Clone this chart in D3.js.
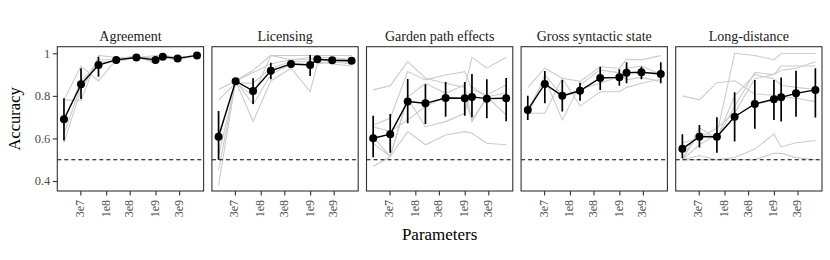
<!DOCTYPE html>
<html>
<head>
<meta charset="utf-8">
<script src="https://cdn.jsdelivr.net/npm/d3@7"></script>
<style>
  html, body { margin: 0; padding: 0; background: #fff; }
  svg { display: block; }
  text { font-family: "Liberation Serif", "DejaVu Serif", serif; }
</style>
</head>
<body>
<svg id="chart" width="830" height="260"></svg>
<script>
// ---------------- data ----------------
const categories = ["Agreement", "Licensing", "Garden path effects", "Gross syntactic state", "Long-distance"];
const params = [14e6, 31e6, 70e6, 160e6, 410e6, 1e9, 1.4e9, 2.8e9, 6.9e9];
const xTickValues = [3e7, 1e8, 3e8, 1e9, 3e9];
const xTickLabels = ["3e7", "1e8", "3e8", "1e9", "3e9"];
const yTickValues = [0.4, 0.6, 0.8, 1];
const yTickLabels = ["0.4", "0.6", "0.8", "1"];
const chanceLevel = 0.5;

const meanAccuracy = [
  [0.690, 0.854, 0.945, 0.969, 0.980, 0.969, 0.984, 0.976, 0.990],
  [0.608, 0.869, 0.823, 0.918, 0.950, 0.945, 0.972, 0.967, 0.965],
  [0.601, 0.620, 0.773, 0.765, 0.790, 0.789, 0.795, 0.787, 0.789],
  [0.734, 0.856, 0.800, 0.824, 0.884, 0.887, 0.909, 0.911, 0.903],
  [0.551, 0.608, 0.608, 0.702, 0.762, 0.784, 0.793, 0.812, 0.828]
];
const lowerBound = [
  [0.590, 0.785, 0.890, 0.960, 0.975, 0.950, 0.978, 0.970, 0.985],
  [0.500, 0.860, 0.762, 0.878, 0.935, 0.893, 0.962, 0.958, 0.955],
  [0.512, 0.533, 0.671, 0.668, 0.702, 0.706, 0.700, 0.695, 0.681],
  [0.687, 0.765, 0.726, 0.777, 0.828, 0.847, 0.859, 0.878, 0.859],
  [0.507, 0.557, 0.533, 0.585, 0.645, 0.687, 0.679, 0.702, 0.698]
];
const upperBound = [
  [0.789, 0.930, 0.984, 0.978, 0.985, 0.985, 0.990, 0.982, 0.995],
  [0.729, 0.878, 0.883, 0.956, 0.965, 0.992, 0.982, 0.976, 0.975],
  [0.707, 0.715, 0.879, 0.854, 0.865, 0.865, 0.903, 0.878, 0.884],
  [0.801, 0.917, 0.875, 0.862, 0.937, 0.925, 0.958, 0.937, 0.958],
  [0.620, 0.663, 0.700, 0.817, 0.875, 0.875, 0.886, 0.918, 0.930]
];
// individual task accuracies (grey lines)
const taskAccuracy = [
  [
    [0.78, 0.94, 0.87, 0.97, 0.98, 0.97, 0.99, 0.98, 0.99],
    [0.78, 0.78, 0.99, 0.98, 0.98, 0.99, 0.99, 0.98, 0.99],
    [0.62, 0.85, 0.97, 0.97, 0.99, 0.95, 0.98, 0.97, 0.99],
    [0.58, 0.83, 0.96, 0.96, 0.98, 0.96, 0.98, 0.98, 0.99],
    [0.68, 0.87, 0.95, 0.97, 0.98, 0.98, 0.98, 0.97, 0.99]
  ],
  [
    [0.38, 0.87, 0.68, 0.87, 0.93, 0.82, 0.95, 0.96, 0.96],
    [0.45, 0.87, 0.76, 0.90, 0.95, 0.95, 0.97, 0.97, 0.97],
    [0.52, 0.86, 0.80, 0.99, 0.99, 0.99, 0.99, 0.99, 0.99],
    [0.83, 0.87, 0.91, 0.95, 0.97, 0.97, 0.98, 0.98, 0.97],
    [0.78, 0.86, 0.86, 0.93, 0.96, 0.96, 0.96, 0.95, 0.94],
    [0.62, 0.87, 0.92, 0.99, 0.97, 0.98, 0.97, 0.96, 0.95]
  ],
  [
    [0.828, 0.848, 0.961, 0.883, 0.859, 0.840, 0.981, 0.930, 0.981],
    [0.663, 0.695, 0.914, 0.875, 0.898, 0.914, 0.828, 0.804, 0.851],
    [0.468, 0.515, 0.796, 0.859, 0.812, 0.852, 0.679, 0.796, 0.812],
    [0.577, 0.515, 0.632, 0.570, 0.616, 0.632, 0.624, 0.577, 0.570],
    [0.608, 0.515, 0.788, 0.655, 0.679, 0.718, 0.843, 0.796, 0.710],
    [0.655, 0.632, 0.687, 0.750, 0.796, 0.788, 0.687, 0.788, 0.788]
  ],
  [
    [0.840, 0.930, 0.883, 0.868, 0.937, 0.930, 0.972, 0.969, 0.989],
    [0.718, 0.718, 0.883, 0.752, 0.819, 0.819, 0.840, 0.859, 0.878],
    [0.734, 0.883, 0.687, 0.852, 0.922, 0.908, 0.875, 0.887, 0.868],
    [0.700, 0.900, 0.800, 0.830, 0.860, 0.890, 0.930, 0.940, 0.900]
  ],
  [
    [0.800, 0.781, 0.862, 0.871, 0.809, 0.803, 0.796, 0.789, 0.773],
    [0.500, 0.570, 0.620, 1.000, 0.990, 0.970, 0.999, 0.999, 0.999],
    [0.500, 0.650, 0.600, 0.750, 0.910, 0.900, 0.940, 0.940, 0.940],
    [0.500, 0.500, 0.500, 0.510, 0.550, 0.620, 0.560, 0.580, 0.590],
    [0.500, 0.520, 0.500, 0.500, 0.500, 0.530, 0.530, 0.510, 0.500],
    [0.500, 0.630, 0.600, 0.800, 0.900, 0.880, 0.850, 0.840, 0.830],
    [0.580, 0.600, 0.650, 0.720, 0.880, 0.900, 0.920, 0.930, 0.960]
  ]
];

// ---------------- layout ----------------
const svg = d3.select("#chart");
const panelLeft0 = 57.3, panelStep = 154.6, panelW = 146.3;
const panelTop = 46.7, panelBottom = 191;
const panelH = panelBottom - panelTop;

const x = d3.scaleLog().domain([Math.pow(10, 7.011), Math.pow(10, 9.973)]).range([0, panelW]);
const y = d3.scaleLinear().domain([0.353, 1.031]).range([panelH, 0]);

const line = d3.line().x((d, i) => x(params[i])).y(d => y(d));

categories.forEach((cat, ci) => {
  const g = svg.append("g").attr("transform", `translate(${panelLeft0 + ci * panelStep},${panelTop})`);

  g.append("clipPath").attr("id", "clip" + ci)
    .append("rect").attr("width", panelW).attr("height", panelH);

  const plot = g.append("g").attr("clip-path", `url(#clip${ci})`);

  // grey task lines
  plot.selectAll("path.task").data(taskAccuracy[ci]).enter()
    .append("path").attr("class", "task")
    .attr("d", line)
    .attr("fill", "none").attr("stroke", "#cccccc").attr("stroke-width", 1.1);

  // chance line
  plot.append("line")
    .attr("x1", 0).attr("x2", panelW)
    .attr("y1", y(chanceLevel)).attr("y2", y(chanceLevel))
    .attr("stroke", "#000").attr("stroke-width", 1.1).attr("stroke-dasharray", "4,3");

  // mean line
  plot.append("path").attr("d", line(meanAccuracy[ci]))
    .attr("fill", "none").attr("stroke", "#000").attr("stroke-width", 1.4);

  // error bars
  plot.selectAll("line.err").data(params).enter()
    .append("line").attr("class", "err")
    .attr("x1", d => x(d)).attr("x2", d => x(d))
    .attr("y1", (d, i) => y(lowerBound[ci][i]))
    .attr("y2", (d, i) => y(upperBound[ci][i]))
    .attr("stroke", "#000").attr("stroke-width", 1.7);

  // points
  plot.selectAll("circle").data(params).enter()
    .append("circle")
    .attr("cx", d => x(d)).attr("cy", (d, i) => y(meanAccuracy[ci][i]))
    .attr("r", 4).attr("fill", "#000");

  // panel border
  g.append("rect").attr("width", panelW).attr("height", panelH)
    .attr("fill", "none").attr("stroke", "#333333").attr("stroke-width", 1.1);

  // strip title
  g.append("text").attr("x", panelW / 2).attr("y", -6)
    .attr("text-anchor", "middle").attr("font-size", 14).attr("fill", "#1a1a1a")
    .text(cat);

  // x axis
  const xAxis = d3.axisBottom(x).tickValues(xTickValues)
    .tickFormat((d, i) => xTickLabels[i]).tickSize(4.5).tickPadding(2);
  const xa = g.append("g").attr("transform", `translate(0,${panelH})`).call(xAxis);
  xa.select(".domain").remove();
  xa.selectAll(".tick line").attr("stroke", "#333333").attr("stroke-width", 1.1);
  xa.selectAll(".tick text")
    .attr("font-family", "Liberation Serif, serif")
    .attr("font-size", 12).attr("fill", "#4d4d4d")
    .attr("transform", "rotate(-90)")
    .attr("text-anchor", "end")
    .attr("x", -9).attr("y", 0).attr("dy", "0.25em");

  if (ci === 0) {
    const yAxis = d3.axisLeft(y).tickValues(yTickValues)
      .tickFormat((d, i) => yTickLabels[i]).tickSize(4.5).tickPadding(2.5);
    const ya = g.append("g").call(yAxis);
    ya.select(".domain").remove();
    ya.selectAll(".tick line").attr("stroke", "#333333").attr("stroke-width", 1.1);
    ya.selectAll(".tick text")
      .attr("font-family", "Liberation Serif, serif")
      .attr("font-size", 12.5).attr("fill", "#4d4d4d");
  }
});

// axis titles
svg.append("text")
  .attr("transform", `translate(20,${(panelTop + panelBottom) / 2}) rotate(-90)`)
  .attr("text-anchor", "middle").attr("font-size", 16.5).attr("fill", "#000")
  .text("Accuracy");
svg.append("text")
  .attr("x", (panelLeft0 + panelLeft0 + 4 * panelStep + panelW) / 2).attr("y", 240)
  .attr("text-anchor", "middle").attr("font-size", 17).attr("fill", "#000")
  .text("Parameters");
</script>
</body>
</html>
